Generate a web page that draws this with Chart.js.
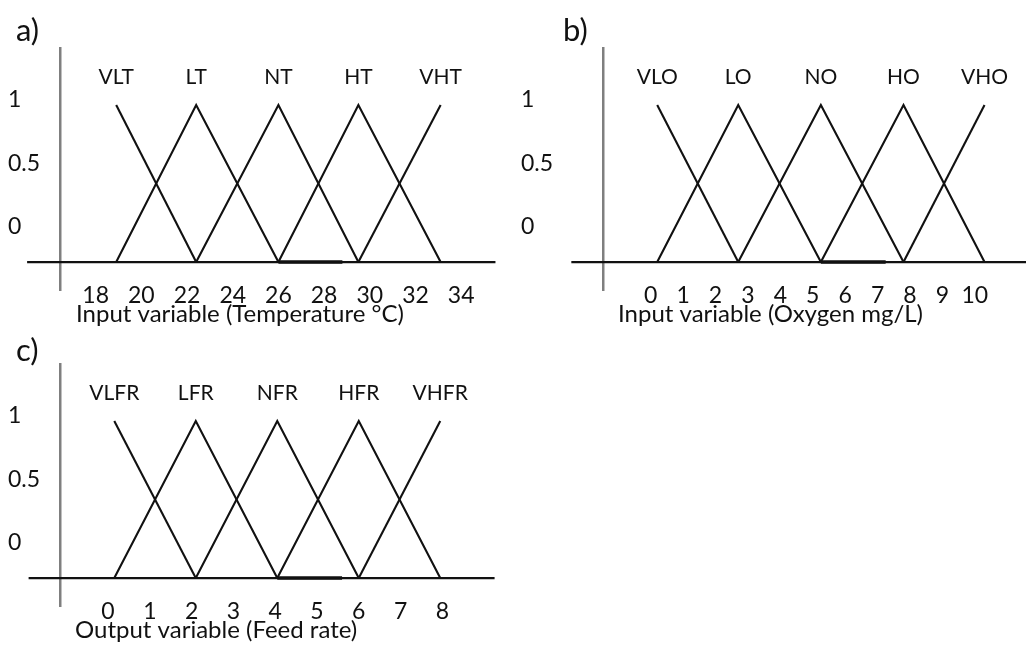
<!DOCTYPE html>
<html>
<head>
<meta charset="utf-8">
<script src="https://cdn.jsdelivr.net/npm/chart.js@4.4.1/dist/chart.umd.min.js"></script>
<style>
  body { margin: 0; background: #fff; width: 1026px; height: 649px; position: relative; overflow: hidden; font-family: Lato, sans-serif; }
  canvas { position: absolute; }
  .tag { position: absolute; font-size: 31px; color: #111; line-height: 1; z-index: 2; }
</style>
</head>
<body>
<canvas id="tempChart" width="513" height="330" style="left:0;top:0"></canvas>
<canvas id="oxyChart" width="513" height="330" style="left:513px;top:0"></canvas>
<canvas id="feedChart" width="513" height="330" style="left:0;top:316px"></canvas>
<div class="tag" style="left:16px;top:14px">a)</div>
<div class="tag" style="left:563px;top:14px">b)</div>
<div class="tag" style="left:16px;top:334px">c)</div>
<script>
// membership degree ticks shared by all three panels
const degreeTicks = [0, 0.5, 1];

// a) temperature input
const tempTicks = [18, 20, 22, 24, 26, 28, 30, 32, 34];
const tempTerms = ['VLT', 'LT', 'NT', 'HT', 'VHT'];
const tempPeaks = [18.9, 22.4, 26.0, 29.5, 33.1];
const tempSpan = [15.0, 35.5];
const tempOverlap = [26.0, 28.8];

// b) dissolved oxygen input
const oxyTicks = [0, 1, 2, 3, 4, 5, 6, 7, 8, 9, 10];
const oxyTerms = ['VLO', 'LO', 'NO', 'HO', 'VHO'];
const oxyPeaks = [0.2, 2.7, 5.25, 7.8, 10.3];
const oxySpan = [-2.45, 11.6];
const oxyOverlap = [5.25, 7.25];

// c) feed rate output
const feedTicks = [0, 1, 2, 3, 4, 5, 6, 7, 8];
const feedTerms = ['VLFR', 'LFR', 'NFR', 'HFR', 'VHFR'];
const feedPeaks = [0.15, 2.1, 4.05, 6.0, 7.95];
const feedSpan = [-1.9, 9.25];
const feedOverlap = [4.05, 5.6];

const FONT = 'Lato';
const INK = '#111';

// triangles: each term rises from the previous peak and falls to the next one
function termSets(peaks, names) {
    return names.map((name, i) => {
        const pts = [];
        if (i > 0) pts.push({ x: peaks[i - 1], y: 0 });
        pts.push({ x: peaks[i], y: 1 });
        if (i < peaks.length - 1) pts.push({ x: peaks[i + 1], y: 0 });
        return { label: name, term: true, data: pts, borderColor: '#111', borderWidth: 2.1, showLine: true, pointRadius: 0 };
    });
}

// term names written above each peak
const termLabels = {
    id: 'termLabels',
    afterDatasetsDraw(chart) {
        const { ctx, scales: { x, y } } = chart;
        ctx.save();
        ctx.font = '21px ' + FONT;
        ctx.fillStyle = INK;
        ctx.textAlign = 'center';
        ctx.textBaseline = 'middle';
        chart.data.datasets.forEach(ds => {
            if (!ds.term) return;
            const top = ds.data.find(p => p.y === 1);
            ctx.fillText(ds.label, x.getPixelForValue(top.x), y.getPixelForValue(1) - 28);
        });
        ctx.restore();
    }
};

function drawPanel(id, p) {
    const datasets = termSets(p.peaks, p.terms);
    datasets.push({ data: p.span.map(v => ({ x: v, y: 0 })), borderColor: '#111', borderWidth: 2.3, showLine: true, pointRadius: 0, clip: false });
    datasets.push({ data: p.overlap.map(v => ({ x: v, y: 0 })), borderColor: '#111', borderWidth: 3.6, showLine: true, pointRadius: 0 });

    new Chart(document.getElementById(id), {
        type: 'scatter',
        data: { datasets: datasets },
        options: {
            responsive: false,
            animation: false,
            layout: { padding: { left: 8, top: 48, right: p.padRight, bottom: 0 } },
            plugins: { legend: { display: false }, tooltip: { enabled: false } },
            scales: {
                x: {
                    type: 'linear', position: 'bottom', min: p.xMin, max: p.xMax,
                    grid: { display: false, drawTicks: false },
                    border: { display: false },
                    afterBuildTicks: s => { s.ticks = p.ticks.map(v => ({ value: v })); },
                    afterFit: s => { s.height = 40; },
                    // mirrored labels are not clipped to the axis box, so they can sit
                    // level with the lower end of the vertical axis
                    ticks: { autoSkip: false, maxRotation: 0, mirror: true, padding: -19, color: INK, font: { family: FONT, size: 23 }, callback: v => String(v) },
                    title: { display: true, text: p.title, align: 'start', color: INK, font: { family: FONT, size: 24 }, padding: { top: 0, bottom: 1 } }
                },
                y: {
                    type: 'linear', position: { x: p.yAt }, min: -0.178, max: 1.363,
                    grid: { display: false, drawTicks: false },
                    border: { color: '#7f7f7f', width: 2.5 },
                    ticks: { display: false },
                    afterFit: s => { s.width = 0; }
                },
                yl: {
                    type: 'linear', axis: 'y', position: 'left', min: -0.496, max: 1.409,
                    grid: { display: false, drawTicks: false },
                    border: { display: false },
                    afterBuildTicks: s => { s.ticks = degreeTicks.map(v => ({ value: v })); },
                    afterFit: s => { s.width = p.labelWidth; },
                    ticks: { crossAlign: 'far', color: INK, font: { family: FONT, size: 23 }, callback: v => String(v) }
                }
            }
        },
        plugins: [termLabels]
    });
}

drawPanel('tempChart', {
    ticks: tempTicks, terms: tempTerms, peaks: tempPeaks, span: tempSpan, overlap: tempOverlap,
    title: 'Input variable (Temperature °C)',
    xMin: 17.14, xMax: 35.48, yAt: 16.43, labelWidth: 68, padRight: 18
});
drawPanel('oxyChart', {
    ticks: oxyTicks, terms: oxyTerms, peaks: oxyPeaks, span: oxySpan, overlap: oxyOverlap,
    title: 'Input variable (Oxygen mg/L)',
    xMin: -1.01, xMax: 11.58, yAt: -1.475, labelWidth: 97, padRight: 0
});
drawPanel('feedChart', {
    ticks: feedTicks, terms: feedTerms, peaks: feedPeaks, span: feedSpan, overlap: feedOverlap,
    title: 'Output variable (Feed rate)',
    xMin: -0.79, xMax: 9.26, yAt: -1.15, labelWidth: 67, padRight: 18
});
</script>
</body>
</html>
